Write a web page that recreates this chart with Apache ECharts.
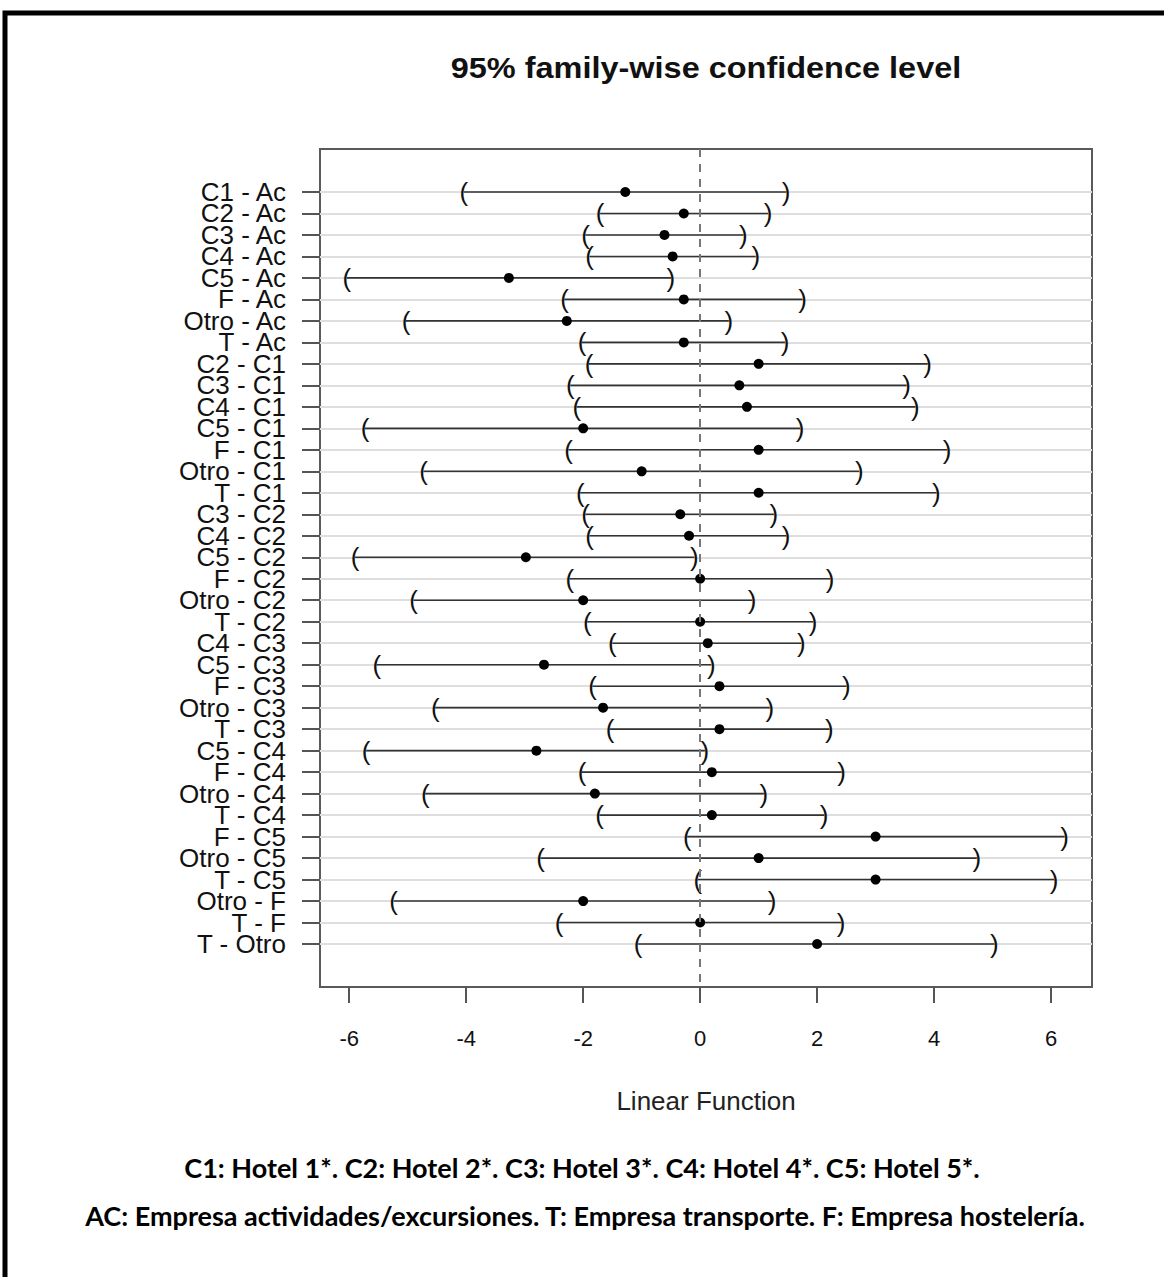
<!DOCTYPE html>
<html>
<head>
<meta charset="utf-8">
<script src="https://cdn.jsdelivr.net/npm/echarts@6/dist/echarts.min.js"></script>
<style>
  html, body { margin: 0; padding: 0; background: #fff; }
  #chart { width: 1164px; height: 1277px; }
</style>
</head>
<body>
<div id="chart"></div>
<script>
// Pairwise comparisons (Tukey contrasts), top to bottom
const rowLabels = [
  'C1 - Ac', 'C2 - Ac', 'C3 - Ac', 'C4 - Ac', 'C5 - Ac', 'F - Ac', 'Otro - Ac', 'T - Ac',
  'C2 - C1', 'C3 - C1', 'C4 - C1', 'C5 - C1', 'F - C1', 'Otro - C1', 'T - C1',
  'C3 - C2', 'C4 - C2', 'C5 - C2', 'F - C2', 'Otro - C2', 'T - C2',
  'C4 - C3', 'C5 - C3', 'F - C3', 'Otro - C3', 'T - C3',
  'C5 - C4', 'F - C4', 'Otro - C4', 'T - C4',
  'F - C5', 'Otro - C5', 'T - C5',
  'Otro - F', 'T - F',
  'T - Otro'
];

// Point estimates of each difference
const estimates = [
  -1.28, -0.28, -0.61, -0.47, -3.27, -0.28, -2.28, -0.28,
  1.00, 0.67, 0.80, -2.00, 1.00, -1.00, 1.00,
  -0.34, -0.19, -2.98, 0.00, -2.00, 0.00,
  0.13, -2.67, 0.33, -1.66, 0.33,
  -2.80, 0.20, -1.80, 0.20,
  3.00, 1.00, 3.00,
  -2.00, 0.00,
  2.00
];

// Lower bounds of the 95% simultaneous intervals
const lowerBounds = [
  -4.04, -1.71, -1.96, -1.89, -6.04, -2.32, -5.03, -2.02,
  -1.90, -2.22, -2.11, -5.73, -2.25, -4.73, -2.05,
  -1.96, -1.89, -5.90, -2.23, -4.90, -1.93,
  -1.50, -5.53, -1.84, -4.53, -1.54,
  -5.71, -2.02, -4.70, -1.72,
  -0.22, -2.73, -0.04,
  -5.24, -2.41,
  -1.06
];

// Upper bounds of the 95% simultaneous intervals
const upperBounds = [
  1.47, 1.16, 0.74, 0.95, -0.50, 1.75, 0.49, 1.45,
  3.89, 3.53, 3.68, 1.71, 4.22, 2.72, 4.04,
  1.26, 1.47, -0.10, 2.22, 0.89, 1.93,
  1.73, 0.19, 2.50, 1.19, 2.21,
  0.08, 2.42, 1.09, 2.12,
  6.23, 4.73, 6.05,
  1.23, 2.41,
  5.03
];

const xTicks = [-6, -4, -2, 0, 2, 4, 6];
const rowIndex = rowLabels.map((_, i) => i);

const intervalData = rowLabels.map((_, i) => [i, lowerBounds[i], estimates[i], upperBounds[i]]);

const chart = echarts.init(document.getElementById('chart'), null, { renderer: 'svg' });

const labelFont = '"Liberation Sans", Arial, Helvetica, sans-serif';
const noteFont = 'Lato, "Open Sans", sans-serif';
const rowLabelGap = 34;

chart.setOption({
  animation: false,
  backgroundColor: '#ffffff',
  grid: {
    left: 320, right: 72, top: 149, bottom: 290,
    show: true, borderColor: '#5a5a5a', borderWidth: 2, backgroundColor: 'transparent'
  },
  xAxis: {
    type: 'value',
    min: -6.5, max: 6.7,
    name: 'Linear Function',
    nameLocation: 'middle',
    nameGap: 101,
    nameTextStyle: { fontFamily: labelFont, fontSize: 26, color: '#222' },
    axisLine: { show: false, onZero: false },
    splitLine: { show: false },
    axisTick: { show: true, length: 16, customValues: xTicks, lineStyle: { color: '#555', width: 2 } },
    axisLabel: { customValues: xTicks, margin: 40, fontFamily: labelFont, fontSize: 22, color: '#111', hideOverlap: false }
  },
  yAxis: {
    type: 'value',
    inverse: true,
    min: -2, max: 37,
    interval: 1,
    axisLine: { show: false, onZero: false },
    axisTick: { show: true, length: 18, customValues: rowIndex, lineStyle: { color: '#555', width: 2 } },
    // row names are drawn by the interval series so that overlapping names all stay visible
    axisLabel: { show: false, customValues: rowIndex },
    splitLine: { show: true, lineStyle: { color: '#dedede', width: 2 } }
  },
  series: [{
    type: 'custom',
    data: intervalData,
    encode: { x: [1, 2, 3], y: 0 },
    clip: false,
    renderItem: (params, api) => {
      const row = api.value(0);
      const lo = api.coord([api.value(1), row]);
      const est = api.coord([api.value(2), row]);
      const hi = api.coord([api.value(3), row]);
      const bracket = (p, ch) => ({
        type: 'text', x: p[0], y: p[1],
        style: { text: ch, font: '26px ' + labelFont, fill: '#111', align: 'center', verticalAlign: 'middle' }
      });
      return {
        type: 'group',
        children: [
          {
            type: 'text', x: params.coordSys.x - rowLabelGap, y: lo[1],
            style: { text: rowLabels[row], font: '26px ' + labelFont, fill: '#111', align: 'right', verticalAlign: 'middle' }
          },
          { type: 'line', shape: { x1: lo[0], y1: lo[1], x2: hi[0], y2: hi[1] }, style: { stroke: '#333', lineWidth: 1.6 } },
          bracket(lo, '('),
          bracket(hi, ')'),
          { type: 'circle', shape: { cx: est[0], cy: est[1], r: 5 }, style: { fill: '#000' } }
        ]
      };
    },
    markLine: {
      silent: true,
      symbol: 'none',
      label: { show: false },
      lineStyle: { color: '#777', width: 2, type: [8, 7] },
      data: [{ xAxis: 0 }]
    }
  }],
  graphic: [
    {
      type: 'rect', silent: true,
      shape: { x: 5, y: 13, width: 1200, height: 1300 },
      style: { fill: 'none', stroke: '#000', lineWidth: 5 }
    },
    {
      type: 'text', x: 706, y: 68, scaleX: 1.12,
      style: { text: '95% family-wise confidence level', font: 'bold 29px ' + labelFont, fill: '#111', align: 'center', verticalAlign: 'middle' }
    },
    {
      type: 'text', x: 582, y: 1167,
      style: { text: 'C1: Hotel 1*. C2: Hotel 2*. C3: Hotel 3*. C4: Hotel 4*. C5: Hotel 5*.', font: 'bold 27px ' + noteFont, fill: '#000', align: 'center', verticalAlign: 'middle' }
    },
    {
      type: 'text', x: 585, y: 1215,
      style: { text: 'AC: Empresa actividades/excursiones. T: Empresa transporte. F: Empresa hostelería.', font: 'bold 27px ' + noteFont, fill: '#000', align: 'center', verticalAlign: 'middle' }
    }
  ]
});
</script>
</body>
</html>
